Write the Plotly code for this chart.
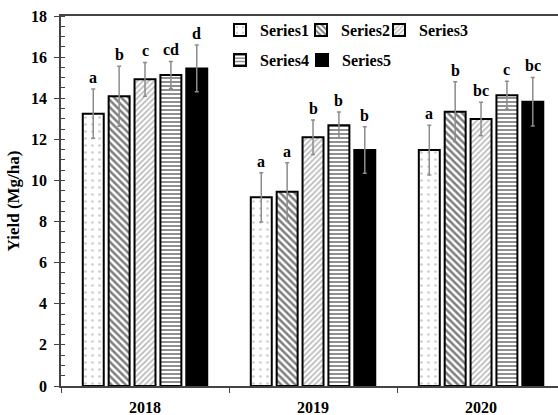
import plotly.graph_objects as go

years = ["2018", "2019", "2020"]
series_names = ["Series1", "Series2", "Series3", "Series4", "Series5"]

yield_means = [
    [13.25, 9.18, 11.48],
    [14.10, 9.45, 13.34],
    [14.92, 12.10, 12.99],
    [15.13, 12.69, 14.15],
    [15.45, 11.48, 13.83],
]
yield_err = [
    [1.20, 1.20, 1.21],
    [1.46, 1.41, 1.46],
    [0.82, 0.84, 0.81],
    [0.66, 0.64, 0.68],
    [1.14, 1.13, 1.18],
]
sig_letters = [
    ["a", "a", "a"],
    ["b", "a", "b"],
    ["c", "b", "bc"],
    ["cd", "b", "c"],
    ["d", "b", "bc"],
]

patterns = [
    dict(shape=".", fgcolor="#9a9a9a", bgcolor="white", size=7, solidity=0.12),
    dict(shape="\\", fgcolor="black", bgcolor="white", size=5, solidity=0.5),
    dict(shape="/", fgcolor="#777777", bgcolor="white", size=4, solidity=0.45),
    dict(shape="-", fgcolor="#222222", bgcolor="white", size=4, solidity=0.5),
    dict(shape="", fgcolor="black", bgcolor="black"),
]
fills = ["white", "white", "white", "white", "black"]

FONT = "Liberation Serif"

# one single-entry legend per series, laid out in two rows
legend_ids = ["legend", "legend2", "legend3", "legend4", "legend5"]
legend_text_x = [261, 342, 420, 261, 343]   # px where each entry's text starts
legend_row_y = [30, 30, 30, 60, 60]         # px, vertical centre of each row

W, H = 558, 415
M_L, M_R, M_T, M_B = 61, 0, 16, 29
PW, PH = W - M_L - M_R, H - M_T - M_B

fig = go.Figure()
for i, name in enumerate(series_names):
    fig.add_trace(go.Bar(
        name=f"<b>{name}</b>",
        x=years,
        y=yield_means[i],
        offsetgroup=str(i),
        legend=legend_ids[i],
        marker=dict(color=fills[i], pattern=patterns[i],
                    line=dict(color="black", width=2)),
        error_y=dict(type="data", array=yield_err[i], color="#8c8c8c",
                     thickness=1.5, width=2),
    ))

# significance letters above each error bar
n = len(series_names)
for i in range(n):
    for j in range(len(years)):
        fig.add_annotation(
            x=j, y=yield_means[i][j] + yield_err[i][j],
            text=f"<b>{sig_letters[i][j]}</b>", showarrow=False,
            xref="x", yref="y", yanchor="bottom", yshift=1,
            xshift=(i - (n - 1) / 2) * 25.8,
            font=dict(family=FONT, size=16, color="black"),
        )

legend_layout = {}
for i, lid in enumerate(legend_ids):
    legend_layout[lid] = dict(
        orientation="h", xanchor="left", yanchor="middle",
        xref="paper", yref="paper",
        x=(legend_text_x[i] - 41 - M_L) / PW,
        y=1 - (legend_row_y[i] - M_T) / PH,
        font=dict(family=FONT, size=16, color="black"),
        bgcolor="rgba(0,0,0,0)", itemwidth=30,
    )

fig.update_layout(
    width=W, height=H,
    margin=dict(l=M_L, r=M_R, t=M_T, b=M_B),
    paper_bgcolor="white", plot_bgcolor="white",
    barmode="group", bargap=0.23, bargroupgap=0.19,
    font=dict(family=FONT, size=16, color="black"),
    showlegend=True,
    **legend_layout,
)
fig.update_xaxes(
    type="category", range=[-0.5, 2.458],
    showline=True, linecolor="#444", linewidth=1.5, mirror=True,
    ticks="outside", ticklen=5, tickcolor="#444", tickson="boundaries",
    tickvals=years, ticktext=[f"<b>{y}</b>" for y in years],
    tickfont=dict(family=FONT, size=16, color="black"),
    ticklabelstandoff=6,
    showgrid=False,
)
fig.update_yaxes(
    range=[0, 18],
    tickvals=list(range(0, 19, 2)),
    ticktext=[f"<b>{v}</b>" for v in range(0, 19, 2)],
    showline=True, linecolor="#444", linewidth=1.5, mirror=False,
    ticks="outside", ticklen=5, tickcolor="#444",
    minor=dict(dtick=0.5, tick0=0, ticks="inside", ticklen=4, tickcolor="#444"),
    tickfont=dict(family=FONT, size=16, color="black"),
    ticklabelstandoff=4,
    title=dict(text="<b>Yield (Mg/ha)</b>", font=dict(family=FONT, size=17), standoff=7),
    showgrid=False, zeroline=False,
)

fig.write_html("out.html")
